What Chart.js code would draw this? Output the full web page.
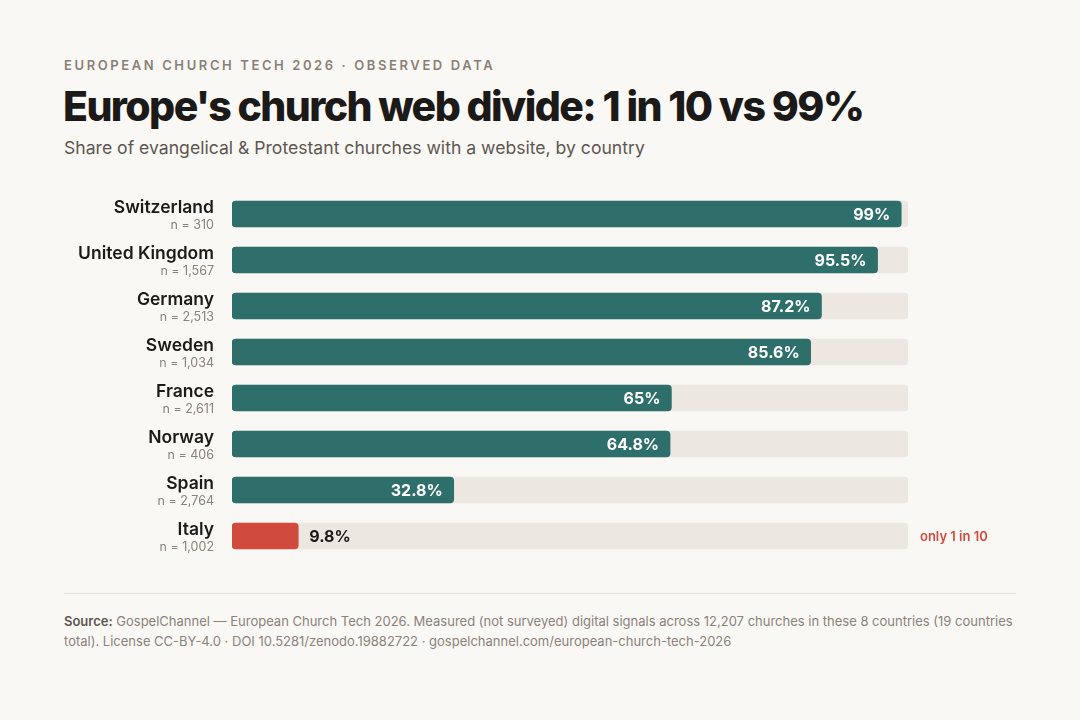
<!DOCTYPE html>
<html>
<head>
<meta charset="utf-8">
<script src="https://cdn.jsdelivr.net/npm/chart.js@4"></script>
<style>
  html,body{margin:0;padding:0;background:#faf8f5;font-family:Inter,sans-serif;}
  .page{position:relative;width:1080px;height:720px;}
  .kicker{position:absolute;left:64px;top:57px;font-size:13px;font-weight:600;letter-spacing:2.6px;color:#8a7f76;}
  h1{position:absolute;left:63px;top:81px;margin:0;font-size:41px;font-weight:800;letter-spacing:-1.6px;color:#1c1a18;}
  .sub{position:absolute;left:64px;top:137px;font-size:17.6px;color:#5d5650;}
  .wrap{position:absolute;left:64px;top:191px;width:952px;height:368px;}
  .rule{position:absolute;left:64px;top:593px;width:952px;height:1px;background:#e3ded8;}
  .src{position:absolute;left:64px;top:611px;width:960px;font-size:13px;line-height:20px;color:#8a827b;}
  .src b{color:#5d5650;font-weight:600;}
</style>
</head>
<body>
<div class="page">
  <div class="kicker">EUROPEAN CHURCH TECH 2026 · OBSERVED DATA</div>
  <h1>Europe's church web divide: 1 in 10 vs 99%</h1>
  <div class="sub">Share of evangelical &amp; Protestant churches with a website, by country</div>
  <div class="wrap"><canvas id="c"></canvas></div>
  <div class="rule"></div>
  <div class="src"><b>Source:</b> GospelChannel — European Church Tech 2026. Measured (not surveyed) digital signals across 12,207 churches in these 8 countries (19 countries total). License CC-BY-4.0 · DOI 10.5281/zenodo.19882722 · gospelchannel.com/european-church-tech-2026</div>
</div>
<script>
// ---------- DATA ----------
const countries = ["Switzerland","United Kingdom","Germany","Sweden","France","Norway","Spain","Italy"];
const samples   = ["310","1,567","2,513","1,034","2,611","406","2,764","1,002"];
const shares    = [99, 95.5, 87.2, 85.6, 65, 64.8, 32.8, 9.8];
const track     = countries.map(() => 100);
const highlight = "Italy";

const TEAL = "#2e6e6b", RED = "#d04a3e", TRACK = "#ece7e1";

// labels: country + n, values, callout
const labelPlugin = {
  id: "labels",
  afterDatasetsDraw(chart){
    const { ctx } = chart;
    const meta = chart.getDatasetMeta(0);
    ctx.save();
    meta.data.forEach((bar, i) => {
      const y = bar.y;
      ctx.textAlign = "right";
      ctx.fillStyle = "#1c1a18";
      ctx.font = "600 17.5px Inter";
      ctx.fillText(countries[i], 150, y - 1);
      ctx.fillStyle = "#8a827b";
      ctx.font = "12.5px Inter";
      ctx.fillText("n = " + samples[i], 150, y + 15);

      const txt = shares[i] + "%";
      ctx.font = "700 16px Inter";
      ctx.textBaseline = "middle";
      if (countries[i] === highlight){
        ctx.textAlign = "left";
        ctx.fillStyle = "#1c1a18";
        ctx.fillText(txt, bar.x + 11, y + 1);
        ctx.fillStyle = RED;
        ctx.font = "600 13px Inter";
        ctx.fillText("only 1 in 10", 856, y + 1);
      } else {
        ctx.textAlign = "right";
        ctx.fillStyle = "#ffffff";
        ctx.fillText(txt, bar.x - 11, y + 1);
      }
      ctx.textBaseline = "alphabetic";
    });
    ctx.restore();
  }
};

new Chart(document.getElementById("c"), {
  type: "bar",
  data: {
    labels: countries,
    datasets: [
      { data: shares, backgroundColor: countries.map(c => c === highlight ? RED : TEAL),
        barThickness: 26, borderRadius: 4, borderSkipped: false, order: 1, grouped: false },
      { data: track, backgroundColor: TRACK,
        barThickness: 26, borderRadius: 4, borderSkipped: false, order: 2, grouped: false }
    ]
  },
  options: {
    indexAxis: "y",
    responsive: true,
    maintainAspectRatio: false,
    animation: false,
    layout: { padding: { left: 168, right: 108, top: 0, bottom: 0 } },
    scales: {
      x: { display: false, min: 0, max: 100 },
      y: { display: false }
    },
    plugins: { legend: { display: false }, tooltip: { enabled: false } }
  },
  plugins: [labelPlugin]
});
</script>
</body>
</html>
